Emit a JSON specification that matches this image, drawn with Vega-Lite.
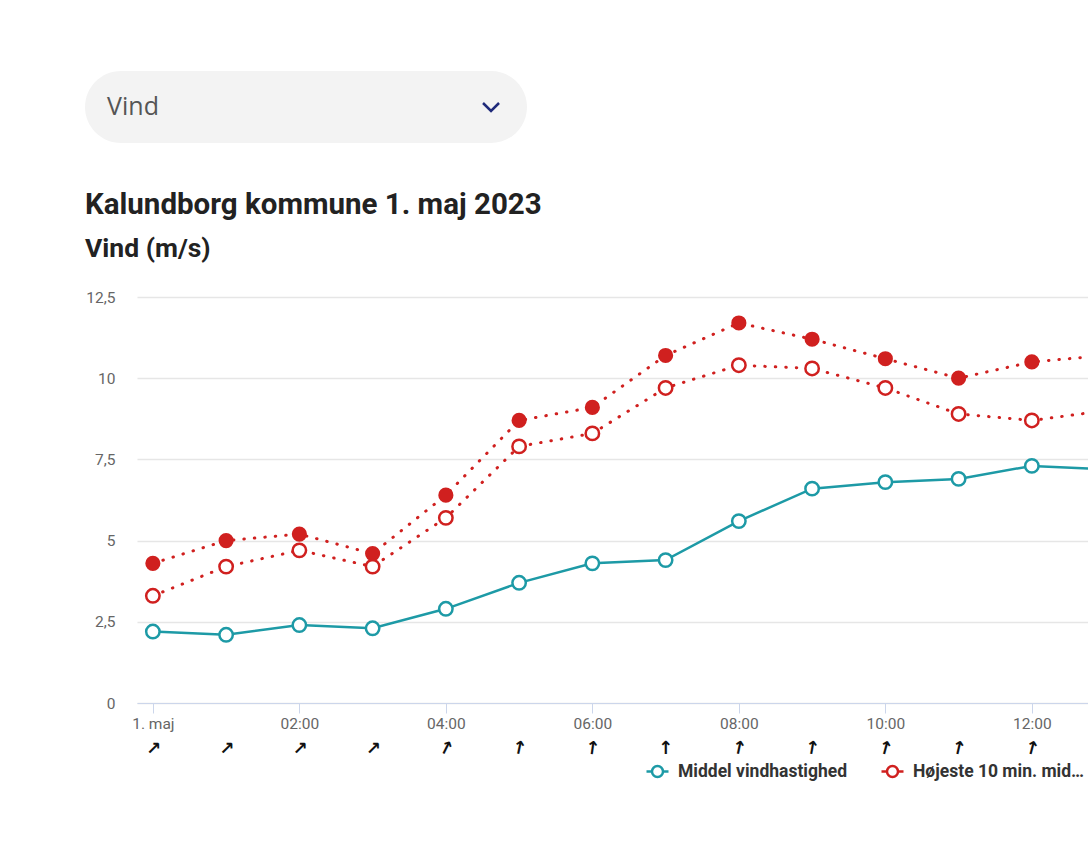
{
  "$schema": "https://vega.github.io/schema/vega-lite/v6.json",
  "background": "white",
  "padding": {"left": 85, "top": 71, "right": 0, "bottom": 0},
  "config": {
    "font": "Roboto",
    "view": {"stroke": null},
    "locale": {"number": {"decimal": ",", "thousands": ".", "grouping": [3], "currency": ["", " kr."]}}
  },
  "datasets": {
    "vind": [
      {"tid": "2023-05-01T00:00:00", "serie": "Middel vindhastighed", "vind": 2.2},
      {"tid": "2023-05-01T01:00:00", "serie": "Middel vindhastighed", "vind": 2.1},
      {"tid": "2023-05-01T02:00:00", "serie": "Middel vindhastighed", "vind": 2.4},
      {"tid": "2023-05-01T03:00:00", "serie": "Middel vindhastighed", "vind": 2.3},
      {"tid": "2023-05-01T04:00:00", "serie": "Middel vindhastighed", "vind": 2.9},
      {"tid": "2023-05-01T05:00:00", "serie": "Middel vindhastighed", "vind": 3.7},
      {"tid": "2023-05-01T06:00:00", "serie": "Middel vindhastighed", "vind": 4.3},
      {"tid": "2023-05-01T07:00:00", "serie": "Middel vindhastighed", "vind": 4.4},
      {"tid": "2023-05-01T08:00:00", "serie": "Middel vindhastighed", "vind": 5.6},
      {"tid": "2023-05-01T09:00:00", "serie": "Middel vindhastighed", "vind": 6.6},
      {"tid": "2023-05-01T10:00:00", "serie": "Middel vindhastighed", "vind": 6.8},
      {"tid": "2023-05-01T11:00:00", "serie": "Middel vindhastighed", "vind": 6.9},
      {"tid": "2023-05-01T12:00:00", "serie": "Middel vindhastighed", "vind": 7.3},
      {"tid": "2023-05-01T13:00:00", "serie": "Middel vindhastighed", "vind": 7.2},
      {"tid": "2023-05-01T00:00:00", "serie": "Højeste 10 min. middel", "vind": 3.3},
      {"tid": "2023-05-01T01:00:00", "serie": "Højeste 10 min. middel", "vind": 4.2},
      {"tid": "2023-05-01T02:00:00", "serie": "Højeste 10 min. middel", "vind": 4.7},
      {"tid": "2023-05-01T03:00:00", "serie": "Højeste 10 min. middel", "vind": 4.2},
      {"tid": "2023-05-01T04:00:00", "serie": "Højeste 10 min. middel", "vind": 5.7},
      {"tid": "2023-05-01T05:00:00", "serie": "Højeste 10 min. middel", "vind": 7.9},
      {"tid": "2023-05-01T06:00:00", "serie": "Højeste 10 min. middel", "vind": 8.3},
      {"tid": "2023-05-01T07:00:00", "serie": "Højeste 10 min. middel", "vind": 9.7},
      {"tid": "2023-05-01T08:00:00", "serie": "Højeste 10 min. middel", "vind": 10.4},
      {"tid": "2023-05-01T09:00:00", "serie": "Højeste 10 min. middel", "vind": 10.3},
      {"tid": "2023-05-01T10:00:00", "serie": "Højeste 10 min. middel", "vind": 9.7},
      {"tid": "2023-05-01T11:00:00", "serie": "Højeste 10 min. middel", "vind": 8.9},
      {"tid": "2023-05-01T12:00:00", "serie": "Højeste 10 min. middel", "vind": 8.7},
      {"tid": "2023-05-01T13:00:00", "serie": "Højeste 10 min. middel", "vind": 9.0},
      {"tid": "2023-05-01T00:00:00", "serie": "Højeste vindstød", "vind": 4.3},
      {"tid": "2023-05-01T01:00:00", "serie": "Højeste vindstød", "vind": 5.0},
      {"tid": "2023-05-01T02:00:00", "serie": "Højeste vindstød", "vind": 5.2},
      {"tid": "2023-05-01T03:00:00", "serie": "Højeste vindstød", "vind": 4.6},
      {"tid": "2023-05-01T04:00:00", "serie": "Højeste vindstød", "vind": 6.4},
      {"tid": "2023-05-01T05:00:00", "serie": "Højeste vindstød", "vind": 8.7},
      {"tid": "2023-05-01T06:00:00", "serie": "Højeste vindstød", "vind": 9.1},
      {"tid": "2023-05-01T07:00:00", "serie": "Højeste vindstød", "vind": 10.7},
      {"tid": "2023-05-01T08:00:00", "serie": "Højeste vindstød", "vind": 11.7},
      {"tid": "2023-05-01T09:00:00", "serie": "Højeste vindstød", "vind": 11.2},
      {"tid": "2023-05-01T10:00:00", "serie": "Højeste vindstød", "vind": 10.6},
      {"tid": "2023-05-01T11:00:00", "serie": "Højeste vindstød", "vind": 10.0},
      {"tid": "2023-05-01T12:00:00", "serie": "Højeste vindstød", "vind": 10.5},
      {"tid": "2023-05-01T13:00:00", "serie": "Højeste vindstød", "vind": 10.7}
    ],
    "retning": [
      {"tid": "2023-05-01T00:00:00", "retning": 45},
      {"tid": "2023-05-01T01:00:00", "retning": 45},
      {"tid": "2023-05-01T02:00:00", "retning": 45},
      {"tid": "2023-05-01T03:00:00", "retning": 45},
      {"tid": "2023-05-01T04:00:00", "retning": 27},
      {"tid": "2023-05-01T05:00:00", "retning": 12},
      {"tid": "2023-05-01T06:00:00", "retning": 8},
      {"tid": "2023-05-01T07:00:00", "retning": 0},
      {"tid": "2023-05-01T08:00:00", "retning": 12},
      {"tid": "2023-05-01T09:00:00", "retning": 10},
      {"tid": "2023-05-01T10:00:00", "retning": 15},
      {"tid": "2023-05-01T11:00:00", "retning": 13},
      {"tid": "2023-05-01T12:00:00", "retning": 15},
      {"tid": "2023-05-01T13:00:00", "retning": 15}
    ]
  },
  "bounds": "full",
  "spacing": 47,
  "vconcat": [
    {
      "width": 442,
      "height": 72,
      "view": {"fill": "#f3f3f3", "stroke": null, "cornerRadius": 36},
      "data": {"values": [{"felt": "Vind"}]},
      "layer": [
        {
          "mark": {"type": "text", "align": "left", "baseline": "middle", "fontSize": 25, "font": "Open Sans", "color": "#555555"},
          "encoding": {
            "x": {"field": "felt", "type": "nominal", "scale": {"type": "point", "align": 0.05}, "axis": null},
            "text": {"field": "felt"}
          }
        },
        {
          "mark": {"type": "point", "shape": "M-1,-0.5L0,0.5L1,-0.5", "filled": false, "stroke": "#1f2a7a", "strokeWidth": 2.5, "size": 256, "opacity": 1},
          "encoding": {
            "x": {"field": "felt", "type": "nominal", "scale": {"type": "point", "align": 0.9186}, "axis": null}
          }
        }
      ],
      "resolve": {"scale": {"x": "independent"}}
    },
    {
      "title": {
        "text": "Kalundborg kommune 1. maj 2023",
        "subtitle": "Vind (m/s)",
        "anchor": "start",
        "frame": "group",
        "font": "Roboto",
        "fontSize": 29.5,
        "fontWeight": "bold",
        "color": "#222222",
        "subtitleFont": "Roboto",
        "subtitleFontSize": 26.5,
        "subtitleFontWeight": "bold",
        "subtitleColor": "#222222",
        "subtitlePadding": 15,
        "offset": 27
      },
      "bounds": "flush",
      "spacing": 22,
      "hconcat": [
        {
          "width": 30,
          "height": 406,
          "data": {"name": "vind"},
          "mark": {"type": "point", "opacity": 0},
          "encoding": {
            "y": {
              "field": "vind",
              "type": "quantitative",
              "scale": {"domain": [0, 12.5], "nice": false},
              "axis": {
                "orient": "right",
                "title": null,
                "values": [0, 2.5, 5, 7.5, 10, 12.5],
                "format": ",.1~f",
                "labelAlign": "right",
                "labelPadding": 0,
                "domain": false,
                "ticks": false,
                "grid": false,
                "labelColor": "#666666",
                "labelFontSize": 15.5
              }
            }
          }
        },
        {
          "bounds": "flush",
          "spacing": 36,
          "vconcat": [
            {
              "width": 951,
              "height": 406,
              "data": {"name": "vind"},
              "encoding": {
                "x": {
                  "field": "tid",
                  "type": "temporal",
                  "scale": {
                    "domain": [
                      {"year": 2023, "month": 4, "date": 30, "hours": 23, "minutes": 47},
                      {"year": 2023, "month": 5, "date": 1, "hours": 12, "minutes": 46}
                    ]
                  },
                  "axis": {
                    "title": null,
                    "values": [
                      {"year": 2023, "month": 5, "date": 1, "hours": 0},
                      {"year": 2023, "month": 5, "date": 1, "hours": 2},
                      {"year": 2023, "month": 5, "date": 1, "hours": 4},
                      {"year": 2023, "month": 5, "date": 1, "hours": 6},
                      {"year": 2023, "month": 5, "date": 1, "hours": 8},
                      {"year": 2023, "month": 5, "date": 1, "hours": 10},
                      {"year": 2023, "month": 5, "date": 1, "hours": 12}
                    ],
                    "format": "%H:%M",
                    "labelExpr": "datum.label == '00:00' ? '1. maj' : datum.label",
                    "grid": false,
                    "domainColor": "#ccd6eb",
                    "tickColor": "#ccd6eb",
                    "tickSize": 10,
                    "labelColor": "#666666",
                    "labelFontSize": 15.5,
                    "labelPadding": 3,
                    "labelFlush": false,
                    "labelOverlap": false
                  }
                },
                "y": {
                  "field": "vind",
                  "type": "quantitative",
                  "scale": {"domain": [0, 12.5], "nice": false},
                  "axis": {
                    "title": null,
                    "values": [0, 2.5, 5, 7.5, 10, 12.5],
                    "labels": false,
                    "domain": false,
                    "ticks": false,
                    "gridColor": "#e6e6e6",
                    "gridWidth": 1.5
                  }
                }
              },
              "layer": [
                {
                  "transform": [{"filter": "datum.serie == 'Middel vindhastighed'"}],
                  "mark": {"type": "line", "clip": true, "strokeWidth": 2.5},
                  "encoding": {
                    "stroke": {
                      "field": "serie",
                      "type": "nominal",
                      "scale": {
                        "domain": ["Middel vindhastighed", "Højeste 10 min. middel", "Højeste vindstød"],
                        "range": ["#1d9aa6", "#d0201f", "#d0201f"]
                      },
                      "legend": {
                        "orient": "none",
                        "legendX": 560,
                        "legendY": 688,
                        "direction": "horizontal",
                        "title": null,
                        "values": ["Middel vindhastighed", "Højeste 10 min. middel"],
                        "symbolType": "M-1,0L-0.5,0M0.5,0L1,0M0.5,0A0.5,0.5,0,1,1,-0.5,0A0.5,0.5,0,1,1,0.5,0",
                        "symbolSize": 484,
                        "symbolStrokeWidth": 2.5,
                        "symbolFillColor": "white",
                        "labelFont": "Roboto",
                        "labelFontSize": 17.5,
                        "labelFontWeight": "bold",
                        "labelColor": "#333333",
                        "labelOffset": 8,
                        "labelLimit": 172,
                        "columnPadding": 28
                      }
                    }
                  }
                },
                {
                  "transform": [{"filter": "datum.serie != 'Middel vindhastighed'"}],
                  "mark": {"type": "line", "clip": true, "strokeWidth": 3, "strokeCap": "round", "strokeDash": [0.5, 10]},
                  "encoding": {
                    "stroke": {"field": "serie", "type": "nominal"}
                  }
                },
                {
                  "transform": [{"filter": "datum.serie == 'Middel vindhastighed'"}],
                  "mark": {"type": "point", "shape": "circle", "filled": true, "fill": "white", "stroke": "#1d9aa6", "strokeWidth": 2.5, "size": 180, "opacity": 1, "clip": true}
                },
                {
                  "transform": [{"filter": "datum.serie == 'Højeste 10 min. middel'"}],
                  "mark": {"type": "point", "shape": "circle", "filled": true, "fill": "white", "stroke": "#d0201f", "strokeWidth": 2.5, "size": 180, "opacity": 1, "clip": true}
                },
                {
                  "transform": [{"filter": "datum.serie == 'Højeste vindstød'"}],
                  "mark": {"type": "point", "shape": "circle", "filled": true, "color": "#d0201f", "size": 230, "opacity": 1, "clip": true}
                }
              ]
            },
            {
              "width": 951,
              "height": 20,
              "data": {"name": "retning"},
              "mark": {"type": "text", "text": "↑", "font": "DejaVu Sans", "fontSize": 18, "fontWeight": "bold", "baseline": "middle", "align": "center", "color": "#111111", "clip": true},
              "encoding": {
                "x": {
                  "field": "tid",
                  "type": "temporal",
                  "scale": {
                    "domain": [
                      {"year": 2023, "month": 4, "date": 30, "hours": 23, "minutes": 47},
                      {"year": 2023, "month": 5, "date": 1, "hours": 12, "minutes": 46}
                    ]
                  },
                  "axis": null
                },
                "angle": {"field": "retning", "type": "quantitative", "scale": {"domain": [0, 360], "range": [0, 360]}}
              }
            }
          ]
        }
      ]
    }
  ]
}
